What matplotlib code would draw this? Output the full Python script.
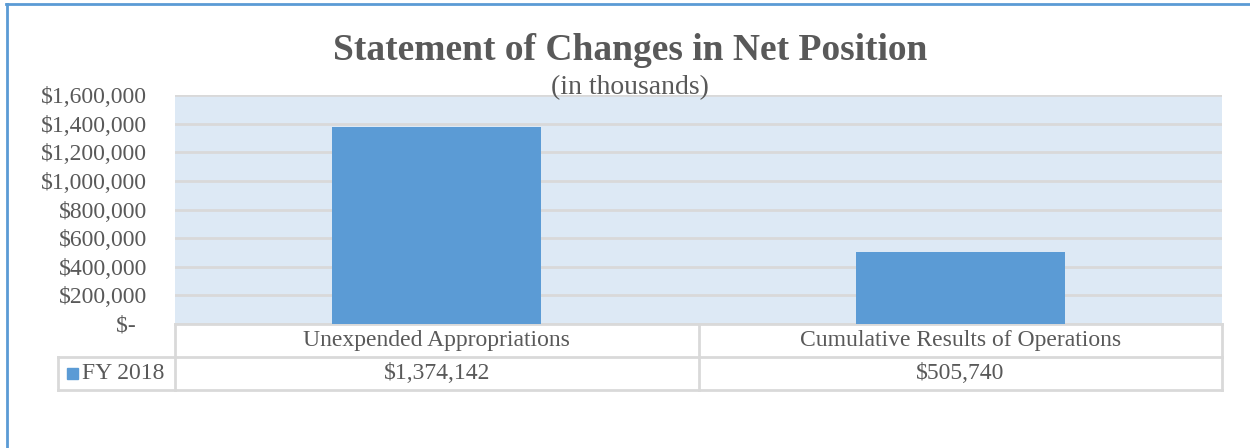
import matplotlib.pyplot as plt
import matplotlib.transforms as mtransforms
from matplotlib.lines import Line2D
from matplotlib.patches import Rectangle

categories = ["Unexpended Appropriations", "Cumulative Results of Operations"]
values = [1374142, 505740]
series_name = "FY 2018"
yticks = [0, 200000, 400000, 600000, 800000, 1000000, 1200000, 1400000, 1600000]

bar_color = "#5b9bd5"
text_color = "#595959"
grid_color = "#d9d9d9"
bg_color = "#dde9f5"

plt.rcParams["font.family"] = ["Liberation Serif", "DejaVu Serif"]

fig = plt.figure(figsize=(12.5, 4.48), dpi=100)
ax = fig.add_axes([0.14, 0.2768, 0.8376, 0.5111])
ax.set_facecolor(bg_color)

x = list(range(len(categories)))
ax.bar(x, values, width=0.4, color=bar_color, zorder=3)
ax.set_xlim(-0.5, len(categories) - 0.5)
ax.set_ylim(0, 1600000)
ax.set_yticks(yticks)
ax.set_yticklabels(["$-  " if v == 0 else "${:,}".format(v) for v in yticks],
                   fontsize=17, color=text_color)
ax.tick_params(axis="y", length=0, pad=20)
ax.set_xticks([])
ax.grid(axis="y", color=grid_color, linewidth=2, zorder=1)
for s in ax.spines.values():
    s.set_visible(False)

# data table under the plot
trans = mtransforms.blended_transform_factory(ax.transData, ax.transAxes)
row_h = 0.144
left_edge = -0.5 - 0.2235
right_edge = len(categories) - 0.5
lw = 2
ax.add_line(Line2D([-0.5, right_edge], [0, 0], transform=trans, color=grid_color, lw=lw, clip_on=False))
ax.add_line(Line2D([left_edge, right_edge], [-row_h, -row_h], transform=trans, color=grid_color, lw=lw, clip_on=False))
ax.add_line(Line2D([left_edge, right_edge], [-2 * row_h, -2 * row_h], transform=trans, color=grid_color, lw=lw, clip_on=False))
ax.add_line(Line2D([left_edge, left_edge], [-row_h, -2 * row_h], transform=trans, color=grid_color, lw=lw, clip_on=False))
for i in range(len(categories) + 1):
    ax.add_line(Line2D([i - 0.5, i - 0.5], [0, -2 * row_h], transform=trans, color=grid_color, lw=lw, clip_on=False))

for i, (c, v) in enumerate(zip(categories, values)):
    ax.text(i, -row_h / 2, c, transform=trans, ha="center", va="center", fontsize=17, color=text_color)
    ax.text(i, -1.5 * row_h, "${:,}".format(v), transform=trans, ha="center", va="center", fontsize=17, color=text_color)

ax.add_patch(Rectangle((left_edge + 0.018, -1.5 * row_h - 0.024), 0.021, 0.048, transform=trans,
                       color=bar_color, clip_on=False))
ax.text(left_edge + 0.046, -1.5 * row_h, series_name, transform=trans, ha="left", va="center",
        fontsize=17, color=text_color)

fig.text(0.504, 0.888, "Statement of Changes in Net Position", ha="center", va="center",
         fontsize=27, fontweight="bold", color=text_color)
fig.text(0.504, 0.805, "(in thousands)", ha="center", va="center", fontsize=20, color=text_color)

# outer border (top and left only)
fig.add_artist(Line2D([0.005, 1.0], [0.99, 0.99], transform=fig.transFigure, color=bar_color, lw=2))
fig.add_artist(Line2D([0.0055, 0.0055], [0.0, 0.99], transform=fig.transFigure, color=bar_color, lw=2))

fig.savefig("out.png", dpi=100)
